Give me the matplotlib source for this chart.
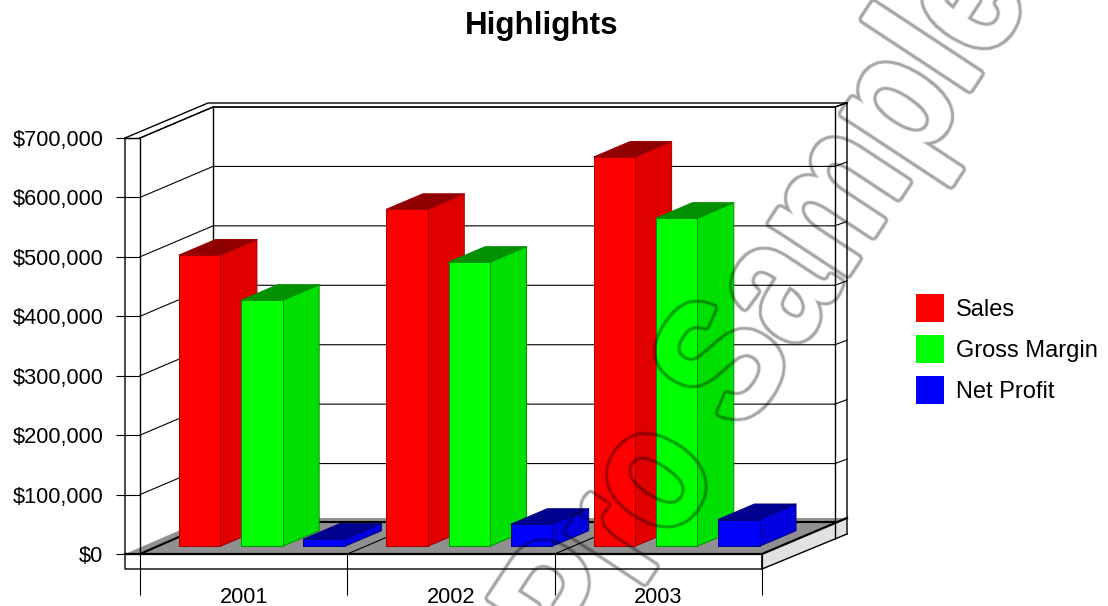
import matplotlib
matplotlib.use("Agg")
import numpy as np
import matplotlib.pyplot as plt
import matplotlib.patheffects as pe
from matplotlib.patches import Polygon, Patch
from matplotlib.transforms import Affine2D

plt.rcParams['font.family'] = ['Liberation Sans', 'DejaVu Sans']

# data
years = ['2001', '2002', '2003']
series = ['Sales', 'Gross Margin', 'Net Profit']
sales = [490000, 567000, 655000]
gross_margin = [414000, 478000, 552000]
net_profit = [12000, 37000, 45000]
y_ticks = [0, 100000, 200000, 300000, 400000, 500000, 600000, 700000]

front_cols = ['#ff0000', '#00ff00', '#0000ff']
side_cols = ['#e00000', '#00e000', '#0000e0']
top_cols = ['#900000', '#009000', '#000090']
edge_cols = ['#a00000', '#009000', '#000080']

W, H = 1108, 606
fig = plt.figure(figsize=(W / 100, H / 100), dpi=100, facecolor='white')
ax = fig.add_axes([140 / W, (H - 554) / H, 622 / W, 416 / H])
ax.set_xlim(0, 3)
ax.set_ylim(0, 700000)
ax.patch.set_visible(False)
for s in ax.spines.values():
    s.set_visible(False)

XP = 3 / 622
YP = 700000 / 416
DX, DY = 73 * XP, 31 * YP  # one unit of depth


class Squeezed(pe.AbstractPathEffect):
    """text narrowed along its baseline"""
    def __init__(self, squeeze):
        super().__init__()
        self.squeeze = squeeze

    def draw_path(self, renderer, gc, tpath, affine, rgbFace=None):
        renderer.draw_path(gc, tpath, Affine2D().scale(self.squeeze, 1) + affine, rgbFace)


def grow(mask, radius):
    # max over a disc of shifts
    out = mask.copy()
    r = int(np.ceil(radius))
    for dy in range(-r, r + 1):
        for dx in range(-r, r + 1):
            if dx * dx + dy * dy <= radius * radius:
                out = np.maximum(out, np.roll(np.roll(mask, dy, axis=0), dx, axis=1))
    return out


def outline_filter(img, dpi):
    """turn filled glyphs into a grey ring a little outside their edge"""
    pad = 8
    mask = np.pad(img[:, :, 3], pad)
    ring = grow(mask, 4.3) * (1 - grow(mask, 1.2))
    # soften the steps of the integer disc
    soft = 4 * ring
    for dy, dx in [(0, 1), (0, -1), (1, 0), (-1, 0)]:
        soft = soft + np.roll(np.roll(ring, dy, axis=0), dx, axis=1)
    soft = soft / 8
    out = np.zeros(mask.shape + (4,))
    out[:, :, 3] = soft * 0.36
    return out, -pad, -pad


def px(x, y):
    """figure pixel to data, for the frame only"""
    return (x - 140) * XP, (554 - y) * YP


def proj(x, y, z):
    return x + z * DX, y + z * DY


def frame(points, lw=1.0, col='black', z=1):
    xs, ys = zip(*[px(*p) for p in points])
    ax.plot(xs, ys, color=col, lw=lw, zorder=z, clip_on=False, solid_capstyle='projecting')


def bar3d(x0, w, val, i):
    z0, z1 = 0.25, 0.75
    a = proj(x0, 0, z0); b = proj(x0 + w, 0, z0)
    c = proj(x0 + w, val, z0); d = proj(x0, val, z0)
    e = proj(x0 + w, 0, z1); f = proj(x0 + w, val, z1); g = proj(x0, val, z1)
    kw = dict(edgecolor=edge_cols[i], lw=0.7, zorder=5, clip_on=False, joinstyle='round')
    ax.add_patch(Polygon([b, e, f, c], facecolor=side_cols[i], **kw))
    ax.add_patch(Polygon([d, c, f, g], facecolor=top_cols[i], **kw))
    ax.add_patch(Polygon([a, b, c, d], facecolor=front_cols[i], **kw))


# floor and the side of the slab
ax.add_patch(Polygon([px(125, 554), px(208, 518), px(847, 518), px(762, 554)],
                     facecolor='#909090', edgecolor='none', zorder=1, clip_on=False))
ax.add_patch(Polygon([px(762, 554), px(847, 518), px(847, 534), px(762, 569)],
                     facecolor='#e2e2e2', edgecolor='none', zorder=1, clip_on=False))

# grid on left wall, back wall and right stub
for v in y_ticks[1:]:
    p0 = (0, v)
    p1 = proj(0, v, 1)
    p2 = proj(3, v, 1)
    ax.plot([p0[0], p1[0], p2[0]], [p0[1], p1[1], p2[1]], color='black', lw=0.8, zorder=2, clip_on=False)
    ax.plot([p2[0], p2[0] + 12 * XP], [p2[1], p2[1] + 4.5 * YP], color='black', lw=0.8, zorder=2, clip_on=False)

# walls
frame([(125, 138), (208, 103), (847, 103), (847, 534)])
frame([(213, 107), (213, 522)])
frame([(835, 107), (835, 538)])
frame([(140, 138), (213, 107), (835, 107), (847, 103)])
frame([(125, 138), (140, 138), (140, 554)])
frame([(125, 138), (125, 569), (762, 569), (847, 534)])

# lines on the floor
frame([(140, 554), (213, 522), (835, 522)], lw=1.5, z=2)
for i in range(1, 3):
    x0, y0 = proj(i, 0, 0)
    x1, y1 = proj(i, 0, 1)
    ax.plot([x0, x1], [y0, y1], color='black', lw=0.8, zorder=2, clip_on=False)
frame([(125, 554), (762, 554), (847, 518)], lw=1.6, z=3)
frame([(762, 554), (762, 569)], lw=1.2, z=3)

# bars
for k, year in enumerate(years):
    for i, vals in enumerate([sales, gross_margin, net_profit]):
        bar3d(k + 0.1 + 0.3 * i, 0.2, vals[k], i)

# axis ticks
ax.set_yticks(y_ticks)
ax.set_yticklabels(['$' + format(v, ',') for v in y_ticks])
ax.tick_params(axis='y', length=17.3, width=0.8, pad=9, labelsize=15.7, labelcolor='black')
ax.set_xticks([0, 1, 2, 3])
ax.set_xticklabels([])
ax.tick_params(axis='x', which='major', length=29.5, width=0.8)
ax.set_xticks([0.5, 1.5, 2.5], minor=True)
ax.set_xticklabels(years, minor=True)
ax.tick_params(axis='x', which='minor', length=0, pad=23.5, labelsize=15.7)

fig.text(542 / W, 1 - 26 / H, 'Highlights', ha='center', va='center', fontsize=22.6, fontweight='bold')

handles = [Patch(facecolor=c, edgecolor='none') for c in front_cols]
ax.legend(handles, series, loc='upper left', bbox_to_anchor=(916 / W, 1 - 294 / H),
          bbox_transform=fig.transFigure, frameon=False, fontsize=17, borderpad=0, borderaxespad=0,
          handlelength=1.19, handleheight=1.448, handletextpad=0.5, labelspacing=0.55)

# watermark, outline only
mark = fig.text(585 / W, 1 - 674 / H, 'Pro Sample', rotation=56.6, rotation_mode='anchor', ha='left',
                va='baseline', fontsize=128, fontweight='bold', color='black', clip_on=False,
                path_effects=[Squeezed(0.83)])
mark.set_agg_filter(outline_filter)

fig.savefig('out.png', dpi=100)
